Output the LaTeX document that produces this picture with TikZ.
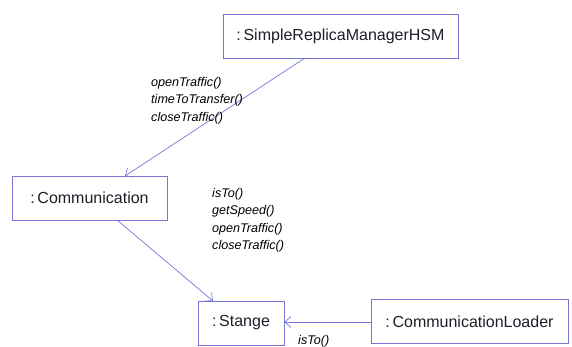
\documentclass[tikz,border=0pt]{standalone}
\usepackage{fontspec}
\setmainfont{Liberation Sans}
\usetikzlibrary{arrows.meta}
\definecolor{umlline}{RGB}{118,118,214}
\definecolor{umltext}{RGB}{30,30,40}
\tikzset{
  obj/.style={draw=umlline, line width=0.9pt, fill=white, minimum height=44pt,
    inner sep=0pt, font=\fontsize{16}{18}\selectfont, text=umltext},
  msg/.style={-{Straight Barb[length=6pt,width=11pt,line width=0.7pt]}, draw=umlline, line width=0.7pt},
  msglabel/.style={anchor=north west, align=left, inner sep=0pt,
    font=\fontsize{12.6}{17.5}\selectfont\itshape, text=black}
}
\begin{document}
\begin{tikzpicture}[x=1pt,y=-1pt]
\useasboundingbox (0,0) rectangle (572,347);
% objects
\node[obj, minimum width=235pt] (hsm) at (340.5,36) {:\,SimpleReplicaManagerHSM};
\node[obj, minimum width=155pt] (comm) at (89.5,198) {:\,Communication};
\node[obj, minimum width=86pt] (stange) at (241,323) {:\,Stange};
\node[obj, minimum width=197pt] (loader) at (469.5,321.5) {:\,CommunicationLoader};
% message links
\coordinate (hsmOut) at (305,58);
\coordinate (commIn) at (125,176);
\coordinate (commOut) at (117,220);
\coordinate (stangeIn) at (213,301);
\draw[msg] (hsmOut) -- (commIn);
\draw[msg] (commOut) -- (stangeIn);
\draw[msg] (loader.west |- 0,322) -- (stange.east |- 0,322);
% message labels
\node[msglabel] (m1) at (151,77) {openTraffic()\\timeToTransfer()\\closeTraffic()};
\node[msglabel] (m2) at (212,188) {isTo()\\getSpeed()\\openTraffic()\\closeTraffic()};
\node[msglabel] (m3) at (298,335) {isTo()};
\end{tikzpicture}
\end{document}
